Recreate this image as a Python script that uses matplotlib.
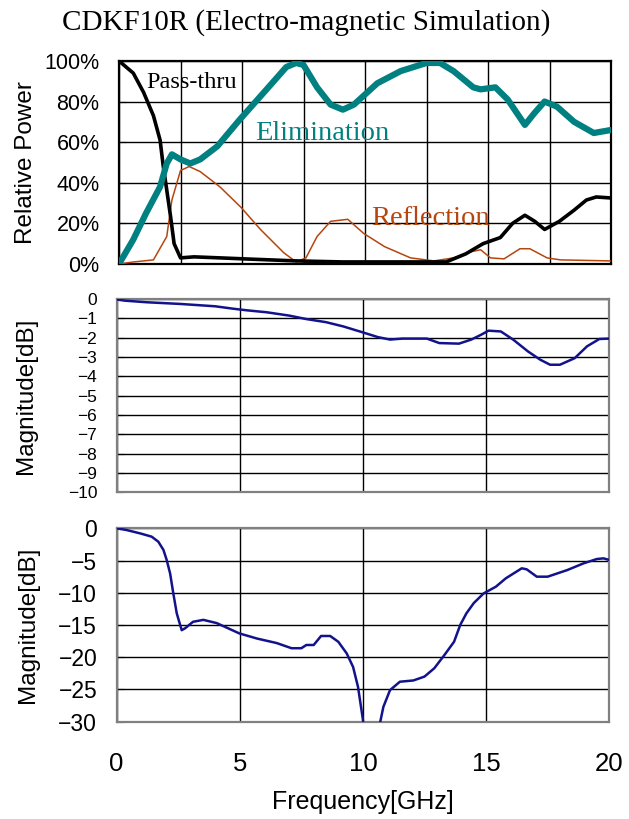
import matplotlib
matplotlib.use("Agg")
import matplotlib.pyplot as plt
import numpy as np

plt.rcParams['font.family'] = ['Liberation Sans', 'DejaVu Sans']

'''--------- data read off the reference ---------'''
# relative power [%]
pass_f = [0, 0.58, 1.0, 1.4, 1.67, 1.8, 1.94, 2.1, 2.24, 2.5, 3.05, 4.1, 5.1, 7.2, 9.1,
          13.3, 14.1, 14.8, 15.5, 16.0, 16.5, 16.9, 17.3, 17.9, 18.5, 19.0, 19.4, 20]
pass_p = [100, 94, 84.5, 73, 61, 48, 36.5, 23, 10, 3, 3.5, 3, 2.5, 1.5, 1,
          1, 5, 10, 13, 20, 24, 21, 17, 21, 26.5, 31.5, 33, 32.5]

elim_f = [0, 0.58, 1.1, 1.67, 1.94, 2.15, 2.5, 2.9, 3.3, 4.0, 4.9, 6.0, 6.8, 7.2, 7.5,
          8.05, 8.6, 9.1, 9.55, 10.5, 11.45, 12.5, 13.05, 13.6, 14.4, 14.7, 15.3, 15.8,
          16.5, 16.9, 17.3, 17.8, 18.5, 19.3, 20]
elim_p = [0, 12, 25, 38, 49.5, 54, 51.5, 49.5, 51.5, 58, 71, 86, 97, 99, 98,
          87, 78.5, 76, 78.5, 89, 95, 99, 99, 95, 87, 86, 87, 81,
          68.5, 74.5, 80, 77.5, 70, 64.5, 66]

refl_f = [0, 0.6, 1.4, 1.94, 2.15, 2.5, 2.85, 3.3, 4.1, 4.95, 5.75, 6.7, 7.2, 7.6, 8.05,
          8.6, 9.3, 9.95, 10.8, 11.85, 12.8, 13.6, 14.3, 14.7, 15.1, 15.65, 16.3, 16.7,
          17.4, 17.95, 20]
refl_p = [0, 1, 2, 13.5, 31.5, 46, 48, 45.5, 38, 28, 17, 5.5, 1, 3, 13.5,
          21, 22, 15, 8.5, 3, 1.5, 3, 6, 7, 3, 2.5, 7.5, 7.5,
          3, 2, 1.5]

# transmission [dB]
s21_f = [0, 0.34, 1.2, 2.6, 4.0, 4.7, 5.3, 6.1, 7.0, 7.7, 8.5, 9.2, 10.0, 10.6, 11.1,
         11.6, 12.6, 13.1, 13.9, 14.4, 14.8, 15.1, 15.6, 16.1, 16.7, 17.2, 17.6, 18.0,
         18.6, 19.1, 19.6, 20]
s21_db = [-0.03, -0.09, -0.17, -0.26, -0.38, -0.5, -0.59, -0.69, -0.86, -1.04, -1.2, -1.42,
          -1.73, -1.97, -2.1, -2.05, -2.05, -2.28, -2.31, -2.1, -1.85, -1.64, -1.68, -2.1,
          -2.71, -3.14, -3.4, -3.4, -3.06, -2.45, -2.07, -2.05]

# reflection [dB]
s11_f = [0, 0.4, 0.95, 1.42, 1.69, 1.9, 2.03, 2.17, 2.3, 2.44, 2.64, 2.78, 3.1, 3.52, 4.06,
         4.98, 5.7, 6.5, 7.1, 7.5, 7.7, 8.0, 8.3, 8.67, 9.0, 9.34, 9.6, 9.8, 10.0, 10.3,
         10.65, 10.83, 11.1, 11.5, 12.05, 12.5, 12.9, 13.3, 13.7, 13.95, 14.2, 14.5, 14.9,
         15.4, 15.8, 16.45, 16.65, 17.06, 17.5, 18.3, 18.96, 19.5, 19.77, 20]
s11_db = [0, -0.26, -0.78, -1.29, -2.07, -3.36, -4.9, -7.0, -10.1, -13.2, -15.8, -15.5,
          -14.5, -14.2, -14.7, -16.3, -17.1, -17.8, -18.6, -18.6, -18.1, -18.1, -16.7, -16.7,
          -17.6, -19.4, -21.5, -24.6, -29.7, -45,
          -31, -27.7, -25.1, -23.8, -23.6, -23.0, -21.7, -19.7, -17.6, -15.0, -13.2, -11.6,
          -10.1, -9.05, -7.76, -6.2, -6.36, -7.5, -7.5, -6.47, -5.43, -4.76, -4.66, -4.9]

pct_ticks = [0, 20, 40, 60, 80, 100]
pct_labels = ['0%', '20%', '40%', '60%', '80%', '100%']
mid_ticks = list(range(0, -11, -1))
bot_ticks = list(range(0, -31, -5))
freq_ticks = [0, 5, 10, 15, 20]

teal = '#008080'
brown = '#b5460f'
navy = '#12128c'

fig = plt.figure(figsize=(6.29, 8.19), dpi=100)

ax1 = fig.add_axes([0.1892, 0.6777, 0.7822, 0.2479])
ax2 = fig.add_axes([0.1855, 0.3987, 0.7830, 0.2363])
ax3 = fig.add_axes([0.1855, 0.1188, 0.7830, 0.2361])

''' ---- top: relative power ---- '''
ax1.plot(refl_f, refl_p, color=brown, lw=1.1, zorder=3)
ax1.plot(pass_f, pass_p, color='black', lw=2.6, zorder=4)
ax1.plot(elim_f, elim_p, color=teal, lw=4.5, zorder=5, solid_capstyle='round')
ax1.set_xlim(0, 20)
ax1.set_ylim(0, 100)
ax1.set_xticks(np.arange(0, 20.1, 2.5))
ax1.set_xticklabels([])
ax1.set_yticks(pct_ticks)
ax1.set_yticklabels(pct_labels)
ax1.grid(True, color='black', lw=1)
ax1.tick_params(axis='x', length=0)
ax1.tick_params(axis='y', direction='in', length=5, pad=14, labelsize=15.5)
for s in ax1.spines.values():
    s.set_color('black')
    s.set_linewidth(1.6)
ax1.set_ylabel('Relative Power', fontsize=17.5, labelpad=5)

ax1.text(2.97, 86.7, 'Pass-thru', family='Liberation Serif', fontsize=17.5,
         ha='center', va='baseline', color='black', zorder=6)
ax1.text(8.25, 61, 'Elimination', family='Liberation Serif', fontsize=20.5,
         ha='center', va='baseline', color=teal, zorder=6)
ax1.text(12.64, 19.2, 'Reflection', family='Liberation Serif', fontsize=20.5,
         ha='center', va='baseline', color=brown, zorder=6)

''' ---- middle and bottom: magnitude ---- '''
for ax, f, db, ticks, lo, size in [(ax2, s21_f, s21_db, mid_ticks, -10, 12.5),
                                   (ax3, s11_f, s11_db, bot_ticks, -30, 16.5)]:
    ax.plot(f, db, color=navy, lw=1.8, zorder=3)
    ax.set_xlim(0, 20)
    ax.set_ylim(lo, 0)
    ax.set_xticks(freq_ticks)
    ax.set_yticks(ticks)
    ax.set_yticklabels([str(t).replace('-', '\u2212') for t in ticks])
    ax.grid(True, color='black', lw=1)
    ax.tick_params(axis='x', length=0)
    ax.tick_params(axis='y', direction='in', length=5, pad=14, labelsize=size)
    for s in ax.spines.values():
        s.set_color('#808080')
        s.set_linewidth(1.6)

ax2.set_ylabel('Magnitude[dB]', fontsize=17.5, labelpad=22)
ax3.set_ylabel('Magnitude[dB]', fontsize=17.5, labelpad=14)
ax2.set_xticklabels([])
ax3.tick_params(axis='x', labelsize=18.5, pad=22)
ax3.set_xlabel('Frequency[GHz]', fontsize=18, labelpad=10)

fig.text(0.487, 0.973, 'CDKF10R (Electro-magnetic Simulation)', family='Liberation Serif',
         fontsize=21, ha='center', va='center')

fig.savefig('out.png', dpi=100)
